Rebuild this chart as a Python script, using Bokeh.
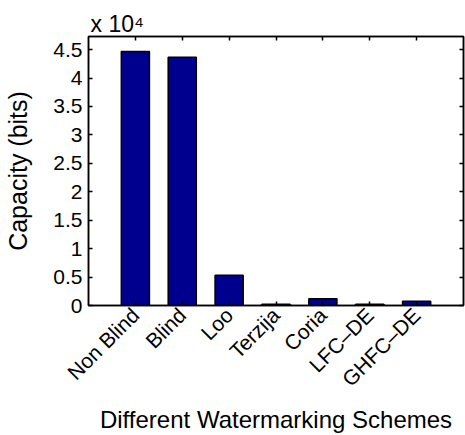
from math import pi

from bokeh.embed import file_html
from bokeh.models import (CategoricalAxis, ColumnDataSource, FactorRange,
                          FixedTicker, LinearAxis, Range1d, Title)
from bokeh.plotting import figure
from bokeh.resources import INLINE

# Embedding capacity of each watermarking scheme, in bits
schemes = ["Non Blind", "Blind", "Loo", "Terzija", "Coria", "LFC–DE", "GHFC–DE"]
capacity = [44650, 43650, 5300, 200, 1200, 200, 750]

# Y axis ticks, labelled in units of 10^4 bits
y_ticks = [0, 5000, 10000, 15000, 20000, 25000, 30000, 35000, 40000, 45000]
y_tick_labels = ["0", "0.5", "1", "1.5", "2", "2.5", "3", "3.5", "4", "4.5"]
y_scale_note = "x 10⁴"

FONT = "Liberation Sans"
BAR_COLOR = "#00008F"
TICK_SIZE = "21px"

source = ColumnDataSource(dict(scheme=schemes, capacity=capacity))

p = figure(
    width=465, height=435,
    x_range=FactorRange(factors=schemes, range_padding=0.5,
                        range_padding_units="absolute"),
    y_range=Range1d(0, 47300),
    output_backend="svg", toolbar_location=None,
    min_border_left=88, min_border_right=2,
    min_border_top=36, min_border_bottom=128,
    x_axis_label="Different Watermarking Schemes",
    y_axis_label="Capacity (bits)",
)
p.background_fill_color = "white"
p.border_fill_color = "white"
p.outline_line_color = "black"
p.outline_line_width = 1.5
p.grid.visible = False

p.vbar(x="scheme", top="capacity", width=0.6, source=source,
       fill_color=BAR_COLOR, line_color="black", line_width=1.5)

# bottom axis: rotated scheme names
xa = p.xaxis[0]
xa.major_label_orientation = pi / 4
xa.major_label_text_font = FONT
xa.major_label_text_font_size = TICK_SIZE
xa.major_label_text_color = "black"
xa.major_label_standoff = 6
xa.major_tick_in = 4
xa.major_tick_out = 0
xa.axis_line_width = 1.5
xa.major_tick_line_width = 1.5
xa.axis_label_text_font = FONT
xa.axis_label_text_font_size = "24px"
xa.axis_label_text_font_style = "normal"
xa.axis_label_text_color = "black"
xa.axis_label_standoff = 4

# left axis
ya = p.yaxis[0]
ya.ticker = FixedTicker(ticks=y_ticks)
ya.major_label_overrides = {t: s for t, s in zip(y_ticks, y_tick_labels)}
ya.major_label_text_font = FONT
ya.major_label_text_font_size = TICK_SIZE
ya.major_label_text_color = "black"
ya.major_label_standoff = 6
ya.major_tick_in = 4
ya.major_tick_out = 0
ya.minor_tick_line_color = None
ya.axis_line_width = 1.5
ya.major_tick_line_width = 1.5
ya.axis_label_text_font = FONT
ya.axis_label_text_font_size = "25px"
ya.axis_label_text_font_style = "normal"
ya.axis_label_text_color = "black"
ya.axis_label_standoff = 18

# mirrored tick marks on the right and top edges of the box (no labels)
right = LinearAxis(ticker=FixedTicker(ticks=y_ticks),
                   major_label_text_color=None, major_label_text_font_size="1px",
                   major_label_standoff=0,
                   major_tick_in=4, major_tick_out=0, minor_tick_line_color=None,
                   axis_line_width=1.5, major_tick_line_width=1.5)
p.add_layout(right, "right")
top = CategoricalAxis(major_label_text_color=None, major_label_text_font_size="1px",
                      major_label_standoff=0,
                      major_tick_in=4, major_tick_out=0,
                      axis_line_width=1.5, major_tick_line_width=1.5)
p.add_layout(top, "above")

# exponent note above the top-left corner of the box
p.add_layout(Title(text=y_scale_note, align="left", offset=2, standoff=0,
                   text_font=FONT, text_font_size="23px",
                   text_font_style="normal", text_color="black"), "above")

open("out.html", "w").write(file_html(p, INLINE))
